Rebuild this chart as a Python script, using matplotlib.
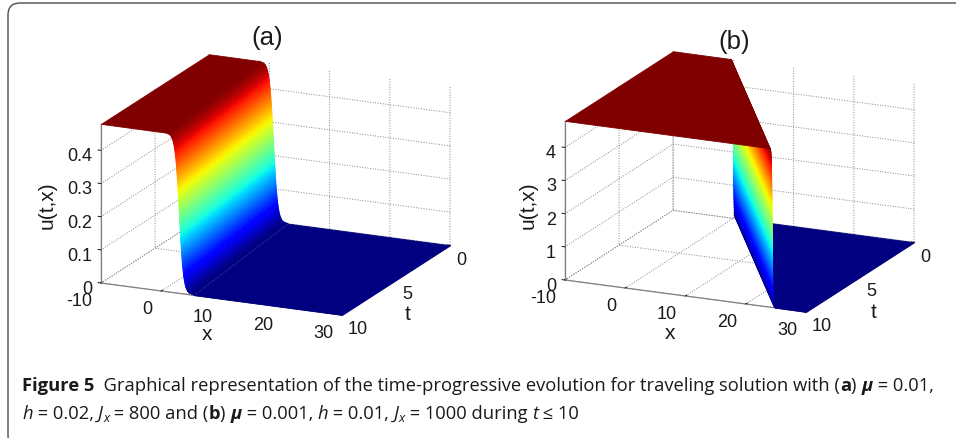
import numpy as np
import matplotlib
matplotlib.use("Agg")
import matplotlib.pyplot as plt
from matplotlib.patches import FancyBboxPatch
from matplotlib.transforms import IdentityTransform, Affine2D
from mpl_toolkits.mplot3d import proj3d

W, H = 956, 439
plt.rcParams.update({
    'font.family': ['Liberation Sans', 'DejaVu Sans'],
    'grid.color': '#858585', 'grid.linestyle': ':', 'grid.linewidth': 0.7,
    'axes.unicode_minus': False,
})

# ---- data ----
t_values = [0, 10]
x_ticks = [-10, 0, 10, 20, 30]
t_ticks = [0, 5, 10]
x_range = [-10, 30]
t_range = [10, 0]

lower_offset = [0, .0145, .029, .0435, .058, .073, .088, .103, .118, .133, .148, .1635, .179, .1945, .21,
                .2265, .243, .2595, .276, .2935, .311, .329, .347, .366, .385, .405, .425, .446, .467,
                .49, .513, .538, .563, .591, .619, .65, .681, .717, .754, .796, .839, .893, .948, 1.02,
                1.097, 1.21, 1.345, 1.6, 2.4]
lower_u_a = [.24, .235, .23, .225, .22, .215, .21, .205, .20, .195, .19, .185, .18, .175, .17, .165, .16,
             .155, .15, .145, .14, .135, .13, .125, .12, .115, .11, .105, .10, .095, .09, .085, .08, .075,
             .07, .065, .06, .055, .05, .045, .04, .035, .03, .025, .02, .015, .01, .005, .0005]
front_a = [0.7, 3.0]      # front position at t = 0, 10
front_b = [0.0, 24.4]
width_b = 0.17            # front of (b) is that much narrower
height_b = 10.0           # plateau of (b) is that much higher
top_a, top_b = 0.48, 4.8
z_ticks_a = [0, .1, .2, .3, .4]
z_ticks_b = [0, 1, 2, 3, 4]
z_labels_a = ['0', '0.1', '0.2', '0.3', '0.4']
z_labels_b = ['0', '1', '2', '3', '4']

fig = plt.figure(figsize=(W / 100, H / 100), dpi=100, facecolor='white')


def grids(front, scale, height, top):
    off = np.array([-o for o in lower_offset[:0:-1]] + lower_offset) * scale
    u = np.array([top_a - v for v in lower_u_a[:0:-1]] + lower_u_a) * height
    xs = [[x_range[0]] + list(f + off) + [x_range[1]] for f in front]
    zs = [[top] + list(u) + [0.0]] * 2
    ts = [[tv] * len(xs[0]) for tv in t_values]
    return np.array(xs), np.array(ts), np.array(zs)


def shift_labels(ax, axis, dx, dy, ha):
    orig = axis.get_major_ticks

    def patched(numticks=None):
        ticks = orig(numticks)
        for tk in ticks:
            tk.label1.set_transform(ax.transData + Affine2D().translate(dx, dy))
            tk.label1.set_ha(ha)
        return ticks
    axis.get_major_ticks = patched


def panel(front, scale, height, top, zticks, zlabels, title, origin, split, tpos, xlpos, tlpos, zlpos):
    ax = fig.add_axes([0.1, 0.1, 0.5, 0.5], projection='3d', computed_zorder=False)
    ax.set_proj_type('ortho')
    ax.view_init(elev=17, azim=-65.6)
    ax.set_box_aspect((264, 261, 166), zoom=0.8)
    ax.set_facecolor('none')
    X, T, Z = grids(front, scale, height, top)

    def surf(sl, order):
        zz = Z[:, sl]
        mid = 0.5 * (zz[0, :-1] + zz[0, 1:])
        cols = plt.get_cmap('jet')(mid / top)[None, :, :]
        ax.plot_surface(X[:, sl], T[:, sl], zz, facecolors=cols, rstride=1, cstride=1, shade=False,
                        linewidth=0.6, antialiased=True, zorder=order)
    parts = [slice(None, 2), slice(1, -1), slice(-2, None)]
    if split:
        parts = parts[::-1]
    for i, sl in enumerate(parts):
        surf(sl, i + 1)
    ax.set_xlim(*x_range, view_margin=0)
    ax.set_ylim(*t_range, view_margin=0)
    ax.set_zlim(0, top, view_margin=0)
    ax.set_xticks(x_ticks)
    ax.set_yticks(t_ticks)
    ax.set_zticks(zticks)
    ax.set_zticklabels(zlabels)
    ax.tick_params(labelsize=13, colors='#1a1a1a')
    ax.tick_params(axis='x', pad=2)
    ax.tick_params(axis='y', pad=2)
    ax.tick_params(axis='z', pad=1)
    for a in (ax.xaxis, ax.yaxis, ax.zaxis):
        a.set_pane_color((1, 1, 1, 0))
        a.line.set_color('#808080')
        a.line.set_linewidth(0.9)
        a._axinfo['tick']['color'] = '#808080'
        a._axinfo['tick']['linewidth'] = {True: 0.7, False: 0.7}
        a._axinfo['tick']['inward_factor'] = 0.0
        a._axinfo['tick']['outward_factor'] = 0.15
        a.pane.set_edgecolor((1, 1, 1, 0))
    ax.zaxis.set_ticks_position('upper')
    shift_labels(ax, ax.xaxis, -3, 3, 'right')
    shift_labels(ax, ax.yaxis, -7, 5, 'left')
    shift_labels(ax, ax.zaxis, 8, 5, 'right')

    # fit the box to its pixel place
    S0 = 400.0
    ax.set_position([0, 0, S0 / W, S0 / H])
    fig.canvas.draw()

    def px(x, t, z):
        a, b, _ = proj3d.proj_transform(x, t, z, ax.get_proj())
        return ax.transData.transform((a, b))
    p1, p2 = px(-10, 10, 0), px(30, 10, 0)
    S = S0 * 241.0 / (p2[0] - p1[0])
    ax.set_position([0, 0, S / W, S / H])
    fig.canvas.draw()
    p1 = px(-10, 10, 0)
    ax.set_position([(origin[0] - p1[0]) / W, (H - origin[1] - p1[1]) / H, S / W, S / H])
    fig.canvas.draw()

    def to_axes(pos):
        return ax.transAxes.inverted().transform((pos[0], H - pos[1]))
    tx, ty = to_axes(tpos)
    ttl = ax.set_title(title, fontsize=18.5, color='#1a1a1a', x=tx, y=ty, ha='center', va='center', pad=0)
    ttl.set_y(ty)
    ax.text2D(*to_axes(xlpos), 'x', transform=ax.transAxes, fontsize=15, ha='center', va='center', color='#1a1a1a')
    ax.text2D(*to_axes(tlpos), 't', transform=ax.transAxes, fontsize=15, ha='center', va='center', color='#1a1a1a')
    ax.text2D(*to_axes(zlpos), 'u(t,x)', transform=ax.transAxes, fontsize=15, ha='center', va='center',
              rotation=90, color='#1a1a1a')
    return ax


panel(front_a, 1.0, 1.0, top_a, z_ticks_a, z_labels_a, '(a)', (101, 284), False,
      (267, 38), (207, 335), (408, 315), (47, 205))
panel(front_b, width_b, height_b, top_b, z_ticks_b, z_labels_b, '(b)', (565, 281), True,
      (734, 42), (670, 334), (874, 313), (528, 205))

# card outline
fig.add_artist(FancyBboxPatch((8, -10), 1000, H - 4 + 10, boxstyle='round,pad=0,rounding_size=12',
                              transform=IdentityTransform(), fc='none', ec='#4d4d4d', lw=1.0))

# caption, set piece by piece
line1 = [('Figure 5', 'bold', 'normal', 1, 0), ('  Graphical representation of the time-progressive evolution for traveling solution with (', 'normal', 'normal', 1, 0),
         ('a', 'bold', 'normal', 1, 0), (') ', 'normal', 'normal', 1, 0), ('μ', 'bold', 'italic', 1, 0), (' = 0.01,', 'normal', 'normal', 1, 0)]
line2 = [('h', 'normal', 'italic', 1, 0), (' = 0.02, ', 'normal', 'normal', 1, 0), ('J', 'normal', 'italic', 1, 0), ('x', 'normal', 'italic', .7, -3),
         (' = 800 and (', 'normal', 'normal', 1, 0), ('b', 'bold', 'normal', 1, 0), (') ', 'normal', 'normal', 1, 0), ('μ', 'bold', 'italic', 1, 0),
         (' = 0.001, ', 'normal', 'normal', 1, 0), ('h', 'normal', 'italic', 1, 0), (' = 0.01, ', 'normal', 'normal', 1, 0), ('J', 'normal', 'italic', 1, 0), ('x', 'normal', 'italic', .7, -3),
         (' = 1000 during ', 'normal', 'normal', 1, 0), ('t', 'normal', 'italic', 1, 0), (' ≤ 10', 'normal', 'normal', 1, 0)]
CAP = 13.2


def caption(parts, x, base):
    r = fig.canvas.get_renderer()
    for s, weight, style, k, dy in parts:
        fig.text(x / W, (H - base + dy) / H, s, fontsize=CAP * k, fontweight=weight, fontstyle=style,
                 family=['Open Sans', 'DejaVu Sans'], color='#1a1a1a', va='baseline', ha='left')
        nbsp = fig.text(0, 0, s.replace(' ', '\u00a0'), fontsize=CAP * k, fontweight=weight, fontstyle=style,
                        family=['Open Sans', 'DejaVu Sans'])
        x += nbsp.get_window_extent(r).width
        nbsp.remove()


caption(line1, 22, 391)
caption(line2, 22, 419)
fig.savefig('out.png', dpi=100)
